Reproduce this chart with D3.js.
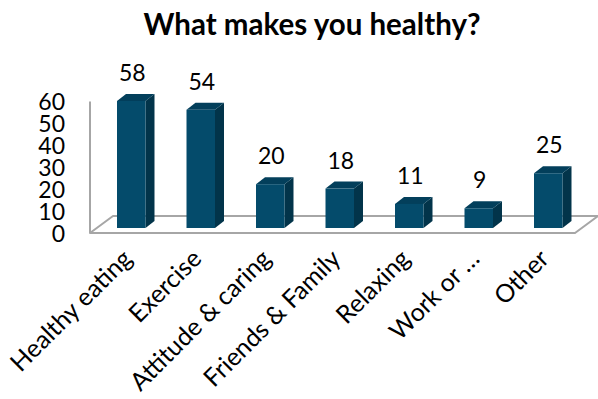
<!DOCTYPE html>
<html>
<head>
<meta charset="utf-8">
<script src="https://cdn.jsdelivr.net/npm/d3@7"></script>
<style>
  html, body { margin: 0; padding: 0; background: #fff; }
  svg { display: block; font-family: Lato, "Open Sans", sans-serif; }
</style>
</head>
<body>
<svg id="chart" width="598" height="399"></svg>
<script>
// Survey answers: what makes you healthy?
const categories = ["Healthy eating", "Exercise", "Attitude & caring", "Friends & Family", "Relaxing", "Work or \u2026", "Other"];
const values = [58, 54, 20, 18, 11, 9, 25];
const yTicks = [0, 10, 20, 30, 40, 50, 60];

const svg = d3.select("#chart");

// 3D look: depth offset of the bar blocks and of the floor
const depth = { dx: 9, dy: -7 };
const floor = { front: 233, back: 216, left: 90, right: 575, skewX: 23 };

const x = d3.scaleBand()
  .domain(categories)
  .range([96.5, 583])
  .paddingInner(0.59)
  .paddingOuter(0.295);

// bars stand a little behind the front edge of the floor
const barBase = 228;
const y = d3.scaleLinear().domain([0, 60]).range([barBase, barBase - 60 * 2.19]);
const yAxisScale = d3.scaleLinear().domain([0, 60]).range([floor.front, floor.front - 60 * 2.19]);

// title
svg.append("text")
  .attr("x", 312).attr("y", 35)
  .attr("text-anchor", "middle")
  .attr("font-weight", "bold")
  .attr("font-size", 29.5)
  .attr("fill", "#000")
  .text("What makes you healthy?");

// floor and wall lines
const gridColor = "#a6a6a6";
svg.append("path")
  .attr("d", `M${floor.left},${yAxisScale(60)} L${floor.left},${floor.front} L${floor.right},${floor.front} L${floor.right + floor.skewX},${floor.back} L${floor.left + floor.skewX},${floor.back} L${floor.left},${floor.front}`)
  .attr("fill", "none")
  .attr("stroke", gridColor)
  .attr("stroke-width", 2)
  .attr("stroke-linejoin", "round");

// value axis
const yAxis = d3.axisLeft(yAxisScale).tickValues(yTicks).tickSize(0).tickPadding(0);
const yg = svg.append("g").attr("transform", "translate(65,0)").call(yAxis);
yg.select(".domain").remove();
yg.selectAll("text")
  .attr("font-family", "Lato, 'Open Sans', sans-serif")
  .attr("font-size", 23)
  .attr("fill", "#000")
  .attr("dy", "0.36em");

// bars as blocks: front, side and top faces
const colors = { front: "#044b6b", side: "#02344a", top: "#033f5b" };
const bars = svg.append("g").selectAll("g.bar").data(values).join("g").attr("class", "bar");

bars.append("path")
  .attr("d", (d, i) => {
    const x0 = x(categories[i]) + x.bandwidth(), yt = y(d);
    return `M${x0},${barBase} L${x0},${yt} L${x0 + depth.dx},${yt + depth.dy} L${x0 + depth.dx},${barBase + depth.dy} Z`;
  })
  .attr("fill", colors.side);

bars.append("path")
  .attr("d", (d, i) => {
    const x0 = x(categories[i]), x1 = x0 + x.bandwidth(), yt = y(d);
    return `M${x0},${yt} L${x1},${yt} L${x1 + depth.dx},${yt + depth.dy} L${x0 + depth.dx},${yt + depth.dy} Z`;
  })
  .attr("fill", colors.top);

bars.append("rect")
  .attr("x", (d, i) => x(categories[i]))
  .attr("y", d => y(d))
  .attr("width", x.bandwidth())
  .attr("height", d => barBase - y(d))
  .attr("fill", colors.front);

// value labels
svg.append("g").selectAll("text").data(values).join("text")
  .attr("x", (d, i) => x(categories[i]) + x.bandwidth() / 2 + 1)
  .attr("y", d => y(d) + depth.dy - 13)
  .attr("text-anchor", "middle")
  .attr("font-size", 23)
  .attr("fill", "#000")
  .text(d => d);

// category labels, rotated
svg.append("g").selectAll("text").data(categories).join("text")
  .attr("transform", c => `translate(${x(c) + x.bandwidth() / 2 - 11},${247}) rotate(-45)`)
  .attr("text-anchor", "end")
  .attr("dy", "0.75em")
  .attr("font-size", 25)
  .attr("fill", "#000")
  .text(c => c);
</script>
</body>
</html>
